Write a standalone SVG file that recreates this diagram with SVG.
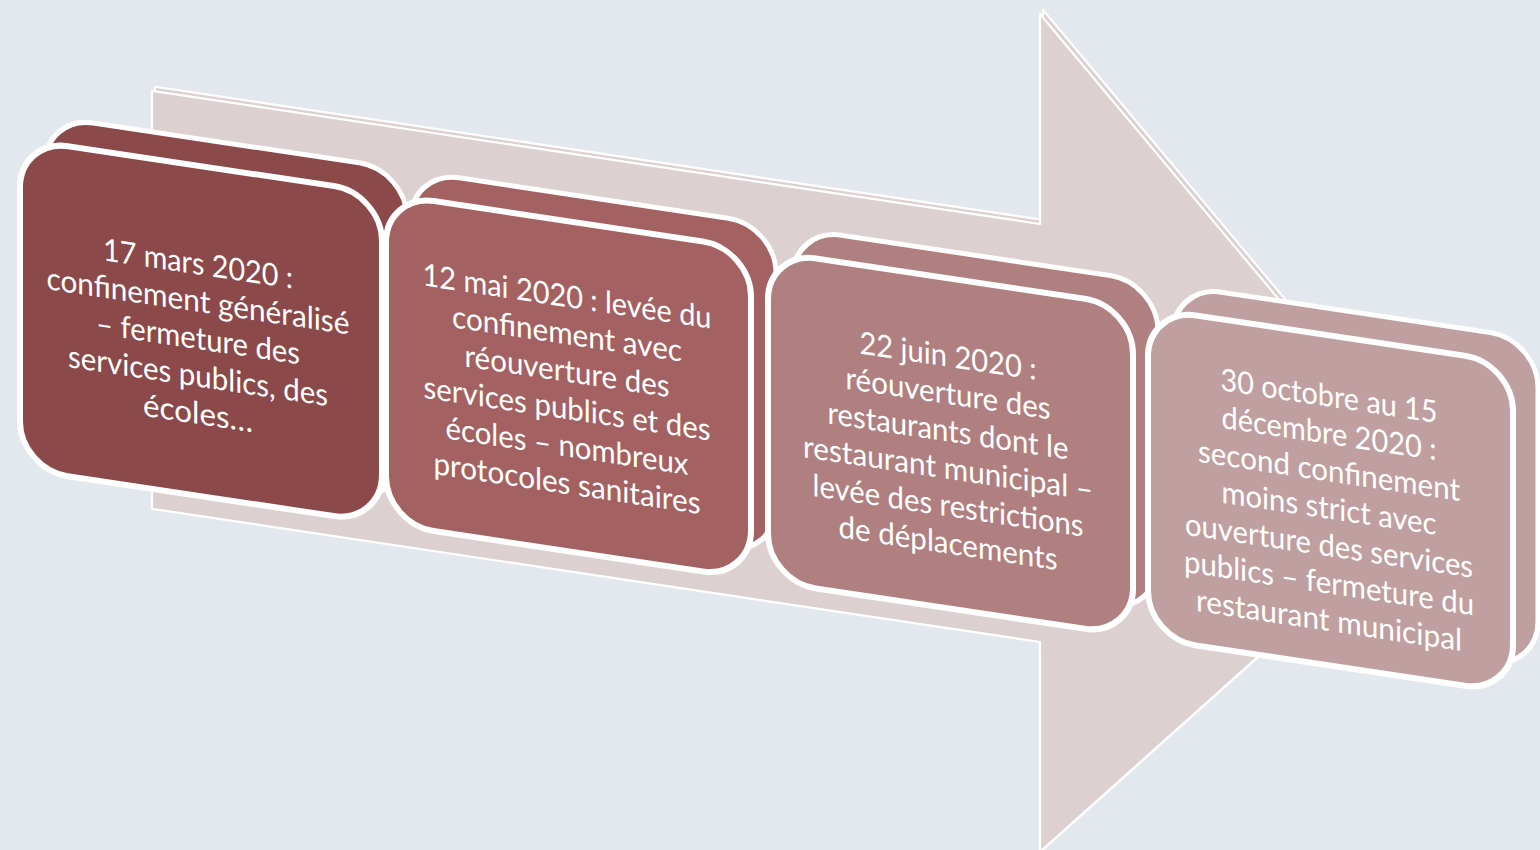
<svg xmlns="http://www.w3.org/2000/svg" width="1540" height="850" viewBox="0 0 1540 850">
<style>
.bg{fill:#e3e8ef}
.arr{fill:#ddd0d1;stroke:#ffffff;stroke-width:2.2;stroke-linejoin:round}
.bk{stroke:#ffffff;stroke-width:5}
.fr{stroke:#ffffff;stroke-width:6}
.c1{fill:#8b494a}.c2{fill:#a46162}.c3{fill:#b07f7f}.c4{fill:#bf9fa0}
.t{font-family:Lato,"Liberation Sans",sans-serif;font-size:31px;fill:#ffffff;text-anchor:middle}
</style>
<rect class="bg" x="0" y="0" width="1540" height="850"/>
<g transform="matrix(1,0.15,0,1,0,0)">
  <g id="connectors">
    <g id="timeline-arrow">
      <polygon class="arr" transform="translate(3,-4.5)" points="152,68 1040,68 1040,-142 1441,277 1040,696 1040,486 152,486"/>
      <polygon class="arr" points="152,68 1040,68 1040,-142 1441,277 1040,696 1040,486 152,486"/>
    </g>
  </g>
  <g id="node1">
    <rect class="bk c1" x="45" y="109" width="362" height="330" rx="48"/>
    <rect class="fr c1" x="20" y="136" width="362" height="330" rx="48"/>
    <text class="t"><tspan x="198" y="244.7" textLength="190" lengthAdjust="spacingAndGlyphs">17 mars 2020 :</tspan><tspan x="198" y="282.1" textLength="303" lengthAdjust="spacingAndGlyphs">confinement généralisé</tspan><tspan x="198" y="319.5" textLength="204" lengthAdjust="spacingAndGlyphs">– fermeture des</tspan><tspan x="198" y="356.9" textLength="260" lengthAdjust="spacingAndGlyphs">services publics, des</tspan><tspan x="198" y="394.3" textLength="110" lengthAdjust="spacingAndGlyphs">écoles…</tspan></text>
  </g>
  <g id="node2">
    <rect class="bk c2" x="411" y="109" width="365" height="330" rx="48"/>
    <rect class="fr c2" x="386" y="136" width="365" height="330" rx="48"/>
    <text class="t"><tspan x="567" y="222" textLength="289" lengthAdjust="spacingAndGlyphs">12 mai 2020 : levée du</tspan><tspan x="567" y="259.4" textLength="230" lengthAdjust="spacingAndGlyphs">confinement avec</tspan><tspan x="567" y="296.8" textLength="205" lengthAdjust="spacingAndGlyphs">réouverture des</tspan><tspan x="567" y="334.2" textLength="287" lengthAdjust="spacingAndGlyphs">services publics et des</tspan><tspan x="567" y="371.6" textLength="243" lengthAdjust="spacingAndGlyphs">écoles – nombreux</tspan><tspan x="567" y="409" textLength="267" lengthAdjust="spacingAndGlyphs">protocoles sanitaires</tspan></text>
  </g>
  <g id="node3">
    <rect class="bk c3" x="793" y="109" width="365" height="330" rx="48"/>
    <rect class="fr c3" x="768" y="136" width="365" height="330" rx="48"/>
    <text class="t"><tspan x="948" y="224.5" textLength="177" lengthAdjust="spacingAndGlyphs">22 juin 2020 :</tspan><tspan x="948" y="261.9" textLength="205" lengthAdjust="spacingAndGlyphs">réouverture des</tspan><tspan x="948" y="299.3" textLength="241" lengthAdjust="spacingAndGlyphs">restaurants dont le</tspan><tspan x="948" y="336.7" textLength="290" lengthAdjust="spacingAndGlyphs">restaurant municipal –</tspan><tspan x="948" y="374.1" textLength="271" lengthAdjust="spacingAndGlyphs">levée des restrictions</tspan><tspan x="948" y="411.5" textLength="219" lengthAdjust="spacingAndGlyphs">de déplacements</tspan></text>
  </g>
  <g id="node4">
    <rect class="bk c4" x="1173" y="109" width="365" height="330" rx="48"/>
    <rect class="fr c4" x="1148" y="136" width="365" height="330" rx="48"/>
    <text class="t"><tspan x="1329" y="207.3" textLength="217" lengthAdjust="spacingAndGlyphs">30 octobre au 15</tspan><tspan x="1329" y="244.7" textLength="215" lengthAdjust="spacingAndGlyphs">décembre 2020 :</tspan><tspan x="1329" y="282.1" textLength="262" lengthAdjust="spacingAndGlyphs">second confinement</tspan><tspan x="1329" y="319.5" textLength="215" lengthAdjust="spacingAndGlyphs">moins strict avec</tspan><tspan x="1329" y="356.9" textLength="288" lengthAdjust="spacingAndGlyphs">ouverture des services</tspan><tspan x="1329" y="394.3" textLength="290" lengthAdjust="spacingAndGlyphs">publics – fermeture du</tspan><tspan x="1329" y="431.7" textLength="266" lengthAdjust="spacingAndGlyphs">restaurant municipal</tspan></text>
  </g>
</g>
</svg>
